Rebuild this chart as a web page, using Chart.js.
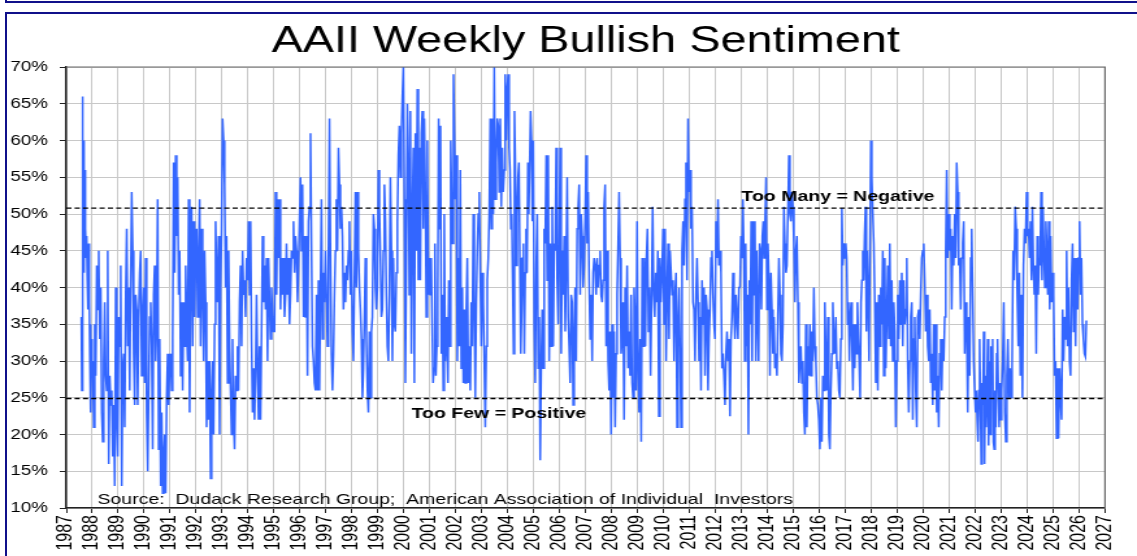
<!DOCTYPE html>
<html>
<head>
<meta charset="utf-8">
<script src="https://cdn.jsdelivr.net/npm/chart.js@4.4.1/dist/chart.umd.min.js"></script>
<style>
  html, body { margin:0; padding:0; background:#fff; }
  body { width:1137px; height:556px; overflow:hidden; position:relative; font-family:"Liberation Sans", Arial, sans-serif; }
  #wrap { position:absolute; left:0; top:0; width:875px; height:556px; transform:scaleX(1.2994); transform-origin:0 0; }
  #c { display:block; width:875px; height:556px; }
  .frame { position:absolute; border:2.5px solid #10108a; box-sizing:border-box; z-index:5; }
</style>
</head>
<body>
<div class="frame" style="left:5px; top:-30px; width:1200px; height:33px;"></div>
<div class="frame" style="left:5px; top:12px; width:1200px; height:600px;"></div>
<div id="wrap"><canvas id="c" width="875" height="556"></canvas></div>
<script>
// ---- Data (AAII weekly % bullish, grouped by year) ----
const b1987 = [36, 26, 66, 50, 60, 42, 56, 44, 48, 45, 47, 42, 44, 37, 46, 38, 31, 35, 23, 33, 28];
const b1988 = [30, 21, 35, 28, 43, 37, 45, 33, 40, 23, 19, 30, 38, 28, 26, 45, 16, 28, 24, 26, 17, 24, 13, 40, 22, 17];
const b1989 = [36, 32, 43, 13, 29, 31, 21, 39, 48, 32, 40, 26, 41, 53, 45, 31, 24, 39, 37, 24, 36, 42, 45, 28, 36, 40];
const b1990 = [27, 44, 23, 15, 26, 36, 38, 32, 18, 39, 43, 30, 35, 52, 18, 33, 13, 23, 12, 17, 20, 12, 25, 31, 24, 30];
const b1991 = [31, 26, 33, 57, 42, 58, 47, 55, 39, 45, 28, 38, 26, 38, 32, 43, 35, 30, 52, 23, 41, 51, 32, 49, 36, 45];
const b1992 = [48, 36, 44, 52, 32, 48, 40, 30, 45, 38, 21, 30, 22, 30, 14, 25, 30, 20, 35, 49, 42, 38, 47, 20, 40, 48];
const b1993 = [63, 60, 54, 40, 47, 27, 45, 32, 26, 20, 33, 22, 18, 28, 26, 32, 26, 38, 43, 32, 45, 39, 41, 36, 44, 41];
const b1994 = [49, 39, 49, 33, 23, 29, 22, 28, 39, 29, 22, 32, 22, 34, 47, 38, 43, 37, 44, 30, 44, 38, 33, 40, 36, 34];
const b1995 = [34, 53, 39, 52, 44, 52, 37, 44, 39, 44, 36, 39, 46, 39, 44, 35, 39, 45, 44, 49, 42, 47, 45, 38, 43, 49];
const b1996 = [55, 45, 54, 36, 47, 36, 47, 28, 49, 51, 61, 45, 32, 30, 27, 26, 39, 26, 41, 26, 39, 52, 33, 42, 38, 45];
const b1997 = [39, 32, 45, 63, 44, 31, 26, 31, 39, 45, 52, 45, 59, 54, 48, 51, 47, 37, 42, 38, 43, 41, 45, 49, 39, 45];
const b1998 = [34, 30, 41, 53, 40, 53, 45, 40, 37, 33, 25, 29, 36, 44, 33, 26, 23, 34, 25, 34, 36, 50, 48, 40, 37, 40];
const b1999 = [56, 51, 44, 36, 37, 45, 54, 49, 39, 32, 30, 39, 55, 45, 30, 44, 35, 34, 42, 49, 58, 62, 55, 61, 66, 70];
const b2000 = [52, 27, 44, 65, 58, 39, 64, 31, 50, 59, 27, 61, 45, 67, 41, 59, 41, 61, 64, 48, 63, 53, 36, 60, 39, 44];
const b2001 = [39, 44, 35, 27, 29, 46, 28, 32, 39, 63, 48, 62, 31, 39, 26, 50, 30, 36, 32, 27, 41, 32, 60, 52, 46, 69, 61, 52];
const b2002 = [58, 30, 44, 32, 56, 29, 40, 27, 37, 27, 37, 44, 27, 32, 26, 38, 32, 50, 38, 25, 38, 45, 50, 53, 42, 32];
const b2003 = [42, 38, 30, 21, 32, 41, 44, 50, 63, 48, 63, 50, 70, 52, 57, 63, 62, 53, 63, 51, 59, 53, 56, 69, 60, 67];
const b2004 = [69, 59, 56, 48, 50, 41, 31, 64, 56, 43, 50, 55, 57, 44, 31, 37, 44, 46, 31, 42, 48, 42, 57, 50, 57, 64, 60, 49, 60];
const b2005 = [35, 27, 43, 50, 29, 36, 16.5, 29, 37, 29, 48, 46, 58, 41, 58, 30, 46, 32, 51, 32, 46, 45, 59, 41, 35, 46];
const b2006 = [59, 31, 45, 39, 47, 34, 43, 55, 36, 32, 27, 39, 38, 24, 33, 40, 30, 48, 51, 54, 39, 50, 47, 40, 43, 49];
const b2007 = [58, 46, 53, 41, 33, 39, 30, 42, 44, 43, 39, 44, 40, 43, 45, 39, 38, 41, 51, 54, 32, 45, 30, 26, 34, 20];
const b2008 = [35, 25, 34, 21, 31, 39, 46, 53, 44, 31, 33, 38, 22, 40, 32, 43, 29, 34, 28, 39, 27, 25, 40, 35, 26, 49];
const b2009 = [29, 23, 33, 19, 44, 32, 44, 32, 44, 48, 34, 40, 28, 39, 51, 39, 36, 42, 38, 45, 22.5, 44, 38, 42, 48];
const b2010 = [35, 48, 30, 39, 46, 33, 45, 42, 39, 41, 30, 39, 42, 21, 35, 40, 32, 21, 45, 49, 43, 52, 57, 41, 63, 53];
const b2011 = [56, 48, 51, 38, 37, 30, 39, 44, 38, 30, 36, 26, 41, 35, 40, 28, 39, 37, 26, 33, 37, 44, 45, 39, 35, 33];
const b2012 = [49, 44, 52, 43, 45, 42, 29, 31, 28, 24, 31, 34, 30, 33, 22.5, 33, 36, 42, 37, 33, 39, 36, 33, 40, 40, 47];
const b2013 = [44, 52, 45, 30, 46, 32, 39, 20, 41, 35, 49, 30, 49, 39, 49, 30, 45, 36, 30, 46, 45, 37, 47, 49, 44, 49, 55, 37];
const b2014 = [46, 41, 28, 42, 37, 31, 36, 29, 31, 28, 36, 44, 39, 31, 30, 35, 51, 46, 42, 43, 50, 58, 50, 49, 53, 51];
const b2015 = [46, 38, 45, 47, 38, 27, 30, 32, 27, 30, 23, 20, 35, 21, 32, 28, 35, 28, 34, 30, 40, 32, 30, 25, 24, 22];
const b2016 = [18, 25, 19, 28, 26, 38, 30, 26, 36, 20, 18, 26, 31, 38, 32, 31, 36, 29, 30, 26, 25, 33, 50.8, 43, 46, 44];
const b2017 = [46, 44, 35, 38, 30, 36, 38, 32, 26, 35, 29, 35, 31, 38, 33, 30, 25, 38, 41, 45, 41, 47, 51, 34, 45, 39, 30, 45, 60];
const b2018 = [55, 50, 46, 38, 27, 38, 26, 39, 32, 40, 35, 45, 28, 44, 29, 36, 43, 33, 46, 32, 41, 30, 38, 34, 21, 30];
const b2019 = [39, 33, 41, 35, 42, 32, 41, 35, 37, 44, 30, 23, 30, 36, 38, 22, 33, 36, 26, 21, 36, 37, 33, 39, 44, 45];
const b2020 = [46, 41, 34, 39, 32, 30, 37, 27, 31, 24, 35, 26, 35, 23, 28, 21, 31, 33, 26, 33, 30, 36, 45, 56, 44, 50];
const b2021 = [45, 48, 37, 47, 43, 50, 44, 57, 53, 43, 44, 37, 44, 46, 49, 31, 38, 35, 23, 36, 28, 44, 48, 39, 30, 26];
const b2022 = [23, 26, 22, 19, 26, 33, 24, 16, 27, 24, 34, 16, 28, 21, 26, 33, 18.5, 30, 20, 32, 29, 33, 19, 18, 26, 21, 31, 33, 26, 21, 27, 22];
const b2023 = [26, 30, 38, 23, 19, 28, 33, 25, 29, 25, 29, 45, 41, 51, 48, 39, 32, 42, 28, 39, 25, 43, 48, 46, 53];
const b2024 = [47, 48, 44, 49, 41, 51, 43, 39, 43, 31, 47, 39, 44, 43, 53, 41, 51, 45, 40, 49, 45, 39, 49, 37, 47, 38, 42];
const b2025 = [39, 28, 30, 19.5, 29, 19.5, 29, 25, 22, 37, 30, 36, 33, 45, 32, 40, 30, 28, 41, 46, 34, 44, 32, 44, 37, 44];
const b2026 = [49, 39, 44, 35, 33, 31, 30.6, 35.5];

const dataYears = [1987,1988,1989,1990,1991,1992,1993,1994,1995,1996,1997,1998,1999,2000,2001,2002,2003,2004,2005,2006,
                   2007,2008,2009,2010,2011,2012,2013,2014,2015,2016,2017,2018,2019,2020,2021,2022,2023,2024,2025,2026];
const yearSeries = [b1987,b1988,b1989,b1990,b1991,b1992,b1993,b1994,b1995,b1996,b1997,b1998,b1999,b2000,b2001,b2002,b2003,b2004,b2005,b2006,
                    b2007,b2008,b2009,b2010,b2011,b2012,b2013,b2014,b2015,b2016,b2017,b2018,b2019,b2020,b2021,b2022,b2023,b2024,b2025,b2026];
const firstObservation = 1987.57;   // late July 1987
const lastObservation = 2026.30;    // April 2026

const xTickYears = [1987,1988,1989,1990,1991,1992,1993,1994,1995,1996,1997,1998,1999,2000,2001,2002,2003,2004,2005,2006,
                    2007,2008,2009,2010,2011,2012,2013,2014,2015,2016,2017,2018,2019,2020,2021,2022,2023,2024,2025,2026,2027];
const yTickValues = [10,15,20,25,30,35,40,45,50,55,60,65,70];
const tooManyLevel = 50.8;
const tooFewLevel = 24.9;

const titleText = 'AAII Weekly Bullish Sentiment';
const tooManyText = 'Too Many = Negative';
const tooFewText = 'Too Few = Positive';
const sourceText = 'Source:  Dudack Research Group;  American Association of Individual  Investors';

// ---- Build points (each year's weekly readings spread across that year) ----
const points = [];
yearSeries.forEach((arr, k) => {
  const y0 = dataYears[k];
  const start = k === 0 ? firstObservation : y0;
  const end = k === yearSeries.length - 1 ? lastObservation : y0 + 1;
  const step = (end - start) / arr.length;
  arr.forEach((v, i) => points.push({ x: start + (i + 0.5) * step, y: v }));
});
const xMin = xTickYears[0], xMax = xTickYears[xTickYears.length - 1];

const FONT = '"Liberation Sans", Arial, sans-serif';

const textPlugin = {
  id: 'texts',
  afterDatasetsDraw(chart) {
    const { ctx, scales: { x, y }, chartArea } = chart;
    ctx.save();
    ctx.strokeStyle = '#6a6a6a';
    ctx.lineWidth = 1.2;
    ctx.beginPath();
    ctx.moveTo(chartArea.left, chartArea.top);
    ctx.lineTo(chartArea.right, chartArea.top);
    ctx.lineTo(chartArea.right, chartArea.bottom);
    ctx.stroke();
    ctx.fillStyle = '#000';
    ctx.textBaseline = 'alphabetic';
    ctx.font = 'bold 15px ' + FONT;
    ctx.fillText(tooManyText, x.getPixelForValue(2013.0), y.getPixelForValue(tooManyLevel) - 7);
    ctx.fillText(tooFewText, x.getPixelForValue(2000.3), y.getPixelForValue(tooFewLevel) + 20);
    ctx.font = '15px ' + FONT;
    ctx.fillText(sourceText, x.getPixelForValue(1988.2), y.getPixelForValue(10) - 4);
    ctx.restore();
  }
};

new Chart(document.getElementById('c'), {
  type: 'line',
  data: {
    datasets: [
      { data: [{x:xMin, y:tooManyLevel},{x:xMax, y:tooManyLevel}], borderColor:'#000', borderWidth:1.3, borderDash:[4,2.4], pointRadius:0, order:0 },
      { data: [{x:xMin, y:tooFewLevel},{x:xMax, y:tooFewLevel}], borderColor:'#000', borderWidth:1.3, borderDash:[4,2.4], pointRadius:0, order:0 },
      { data: points, borderColor:'#3366ff', borderWidth:1.5, pointRadius:0, tension:0, order:1 }
    ]
  },
  options: {
    responsive:false, animation:false, devicePixelRatio:1,
    layout: { padding: { left:0, right:24.6, top:0, bottom:0 } },
    plugins: {
      legend: { display:false },
      tooltip: { enabled:false },
      title: { display:true, text:titleText, color:'#000', fullSize:false,
               font:{ family:FONT, size:36, weight:'normal', lineHeight:1.2 },
               padding:{ top:20.9, bottom:2.9 } }
    },
    scales: {
      x: {
        type:'linear', min:xMin, max:xMax,
        afterBuildTicks: s => { s.ticks = xTickYears.map(v => ({ value:v })); },
        afterFit: s => { s.height = 48; },
        ticks: { autoSkip:false, minRotation:90, maxRotation:90, padding:2, color:'#000',
                 font:{ family:FONT, size:16 }, callback: v => String(v) },
        grid: { color:'#c8c8c8', lineWidth:1, tickLength:5, tickColor:'#222', drawTicks:true },
        border: { display:true, color:'#222', width:1.5 }
      },
      y: {
        min:10, max:70,
        afterBuildTicks: s => { s.ticks = yTickValues.map(v => ({ value:v })); },
        afterFit: s => { s.width = 51; },
        ticks: { padding:9, color:'#000', font:{ family:FONT, size:14.5 }, callback: v => v + '%' },
        grid: { color:'#c8c8c8', lineWidth:1, tickLength:5, tickColor:'#222', drawTicks:true },
        border: { display:true, color:'#222', width:1.5 }
      }
    }
  },
  plugins: [textPlugin]
});
</script>
</body>
</html>
